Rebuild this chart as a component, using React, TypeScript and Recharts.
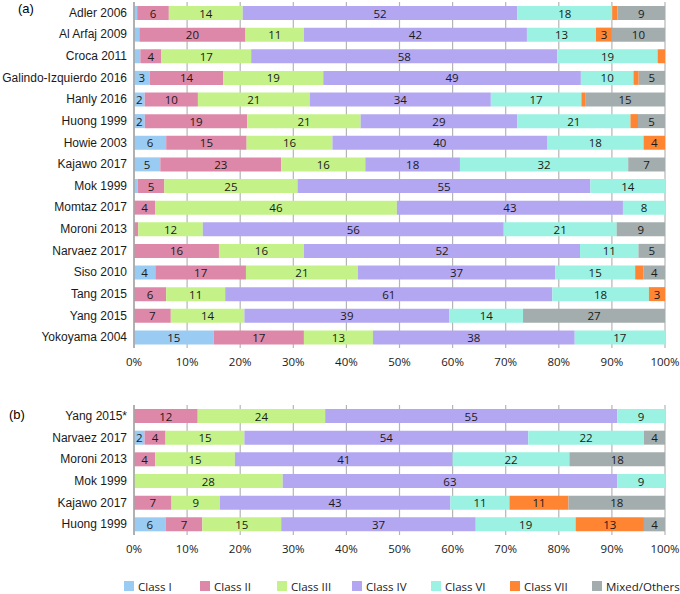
import { BarChart, Bar, XAxis, YAxis, CartesianGrid, LabelList } from 'recharts';

const classKeys = ['I', 'II', 'III', 'IV', 'VI', 'VII', 'Mixed'];
const classNames = ['Class I', 'Class II', 'Class III', 'Class IV', 'Class VI', 'Class VII', 'Mixed/Others'];
const colors = ['#9acbf3', '#dd88a8', '#c5f288', '#b3a7f2', '#9bf2e2', '#ff8533', '#a3adad'];
const xTicks = [0, 0.1, 0.2, 0.3, 0.4, 0.5, 0.6, 0.7, 0.8, 0.9, 1];

// panel (a)
const studiesA = [
  'Adler 2006', 'Al Arfaj 2009', 'Croca 2011', 'Galindo-Izquierdo 2016', 'Hanly 2016', 'Huong 1999',
  'Howie 2003', 'Kajawo 2017', 'Mok 1999', 'Momtaz 2017', 'Moroni 2013', 'Narvaez 2017',
  'Siso 2010', 'Tang 2015', 'Yang 2015', 'Yokoyama 2004',
];
const classIA = [0.6, 1, 1.2, 3, 2, 2, 6, 5, 0.7, 0, 0, 0, 4, 0, 0, 15];
const classIIA = [6, 20, 4, 14, 10, 19, 15, 23, 5, 4, 0.8, 16, 17, 6, 7, 17];
const classIIIA = [14, 11, 17, 19, 21, 21, 16, 16, 25, 46, 12, 16, 21, 11, 14, 13];
const classIVA = [52, 42, 58, 49, 34, 29, 40, 18, 55, 43, 56, 52, 37, 61, 39, 38];
const classVIA = [18, 13, 19, 10, 17, 21, 18, 32, 14, 8, 21, 11, 15, 18, 14, 17];
const classVIIA = [1, 3, 1.4, 1, 0.7, 1.4, 4, 0, 0, 0, 0, 0, 1.6, 3, 0, 0];
const mixedA = [9, 10, 0, 5, 15, 5, 0, 7, 0, 0, 9, 5, 4, 0, 27, 0];

// panel (b)
const studiesB = ['Yang 2015*', 'Narvaez 2017', 'Moroni 2013', 'Mok 1999', 'Kajawo 2017', 'Huong 1999'];
const classIB = [0, 2, 0, 0, 0, 6];
const classIIB = [12, 4, 4, 0, 7, 7];
const classIIIB = [24, 15, 15, 28, 9, 15];
const classIVB = [55, 54, 41, 63, 43, 37];
const classVIB = [9, 22, 22, 9, 11, 19];
const classVIIB = [0, 0, 0, 0, 11, 13];
const mixedB = [0, 4, 18, 0, 18, 4];

const buildRows = (names: string[], cols: number[][]) =>
  names.map((name, i) => {
    const row: Record<string, string | number> = { name };
    classKeys.forEach((k, j) => (row[k] = cols[j][i]));
    return row;
  });

const rowsA = buildRows(studiesA, [classIA, classIIA, classIIIA, classIVA, classVIA, classVIIA, mixedA]);
const rowsB = buildRows(studiesB, [classIB, classIIB, classIIIB, classIVB, classVIB, classVIIB, mixedB]);

const numFont = '"Open Sans", sans-serif';
const nameFont = '"Liberation Sans", Arial, sans-serif';

const renderLabel = (props: any) => {
  const { x, y, width, height, value } = props;
  if (value == null || Number(value) < 2) return null;
  return (
    <text
      x={Number(x) + Number(width) / 2}
      y={Number(y) + Number(height) / 2}
      textAnchor="middle"
      dominantBaseline="central"
      fontFamily={numFont}
      fontSize={11.5}
      fill="#1a1a1a"
    >
      {Math.round(Number(value))}
    </text>
  );
};

// plain text tick so long study names don't wrap
const NameTick = (props: any) => {
  const { x, y, payload } = props;
  return (
    <text x={x} y={y} textAnchor="end" dominantBaseline="central" fontFamily={nameFont} fontSize={12} fill="#1a1a1a">
      {payload.value}
    </text>
  );
};

function Panel({ data, height, top, bottom }: { data: any[]; height: number; top: number; bottom: number }) {
  return (
    <BarChart
      width={680}
      height={height}
      data={data}
      layout="vertical"
      stackOffset="expand"
      margin={{ top, right: 15, bottom, left: 0 }}
    >
      <CartesianGrid horizontal={false} stroke="#b5b5b5" strokeWidth={1.2} />
      <XAxis
        type="number"
        domain={[0, 1]}
        ticks={xTicks}
        tickFormatter={(v) => `${Math.round(Number(v) * 100)}%`}
        axisLine={false}
        tickLine={false}
        tickSize={8}
        tickMargin={2}
        height={20}
        tick={{ fontSize: 11.5, fontFamily: numFont, fill: '#1a1a1a' }}
        interval={0}
      />
      <YAxis
        type="category"
        dataKey="name"
        width={134}
        axisLine={{ stroke: '#a6a6a6', strokeWidth: 1.5 }}
        tickLine={false}
        tickSize={6}
        tickMargin={1}
        interval={0}
        tick={<NameTick />}
      />
      {classKeys.map((k, idx) => (
        <Bar key={k} dataKey={k} stackId="s" fill={colors[idx]} barSize={14} isAnimationActive={false}>
          <LabelList dataKey={k} content={renderLabel} />
        </Bar>
      ))}
    </BarChart>
  );
}

const legendX = [124, 200, 277, 352, 431, 510, 592];

export default function App() {
  return (
    <div style={{ position: 'absolute', left: 0, top: 0, width: 680, height: 594, background: '#fff', overflow: 'hidden' }}>
      <div style={{ position: 'absolute', left: 0, top: 0 }}>
        <Panel data={rowsA} height={372} top={2} bottom={4} />
      </div>
      <div style={{ position: 'absolute', left: 0, top: 372 }}>
        <Panel data={rowsB} height={222} top={33} bottom={39} />
      </div>
      <div style={{ position: 'absolute', left: 18, top: 1, fontFamily: nameFont, fontSize: 13 }}>(a)</div>
      <div style={{ position: 'absolute', left: 9, top: 407, fontFamily: nameFont, fontSize: 13 }}>(b)</div>
      {classNames.map((n, i) => (
        <div
          key={n}
          style={{
            position: 'absolute',
            left: legendX[i],
            top: 578,
            height: 16,
            display: 'flex',
            alignItems: 'center',
            fontFamily: numFont,
            fontSize: 11.5,
            color: '#1a1a1a',
            whiteSpace: 'nowrap',
          }}
        >
          <span style={{ width: 10, height: 10, background: colors[i], marginRight: 4, display: 'inline-block' }} />
          {n}
        </div>
      ))}
    </div>
  );
}
